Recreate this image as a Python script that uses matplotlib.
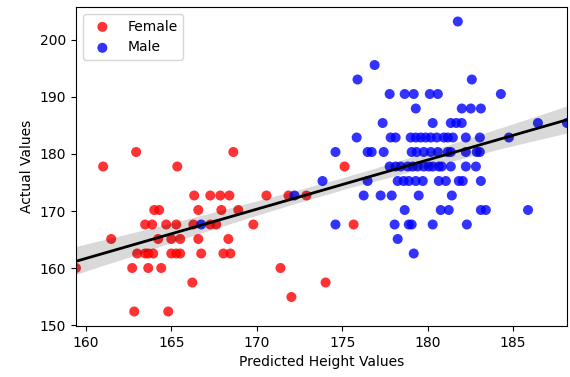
import numpy as np
import matplotlib
matplotlib.use("Agg")
import matplotlib.pyplot as plt
import seaborn as sns

# predicted vs actual heights (cm)
female_pred = [162.93, 168.62,
               161.00, 165.34, 175.13,
               166.33, 167.27, 167.86, 168.39, 170.56, 171.85, 172.90,
               163.99, 164.28, 166.57, 167.92, 168.91,
               163.46, 163.87, 164.69, 165.28, 166.28, 167.27, 167.62, 169.79, 175.66,
               161.47, 164.22, 164.99, 165.51, 166.57, 168.33,
               162.99, 163.46, 163.64, 163.93, 164.99, 165.28, 165.51, 166.74, 168.04, 168.45,
               159.41, 162.70, 163.64, 164.40, 171.38,
               166.22, 174.02,
               172.02,
               162.82, 164.81]
female_actual = [180.34] * 2 + [177.8] * 3 + [172.72] * 7 + [170.18] * 5 + [167.64] * 9 \
    + [165.1] * 6 + [162.56] * 10 + [160.02] * 5 + [157.48] * 2 + [154.94] * 1 + [152.4] * 2

male_pred = [181.76,
             176.89,
             175.89, 182.58,
             177.77, 178.65, 179.18, 180.12, 180.59, 184.28,
             179.30, 181.99, 182.52, 183.11,
             177.36, 180.29, 181.35, 181.67, 181.99, 186.45, 188.15,
             175.84, 177.83, 178.12, 179.00, 179.30, 179.59, 179.88, 180.18, 180.53, 180.94,
             181.17, 181.47, 182.23, 183.05, 184.75,
             174.60, 176.48, 176.72, 177.42, 179.06, 179.35, 179.77, 180.18, 180.59, 181.17,
             181.35, 182.23, 182.87, 183.05,
             177.77, 178.12, 178.42, 178.83, 179.12, 179.41, 179.77, 180.06, 180.29, 180.65,
             180.82, 181.35, 182.23, 182.82,
             173.84, 176.48, 178.24, 178.59, 178.89, 179.30, 179.71, 180.65, 181.06, 181.82,
             182.05, 183.11,
             172.20, 176.25, 177.24, 177.89, 179.47, 181.41,
             178.65, 180.76, 181.23, 183.11, 183.40, 185.87,
             166.74, 174.60, 178.06, 178.89, 179.06, 180.29, 182.29,
             178.24,
             179.18]
male_actual = [203.2] * 1 + [195.58] * 1 + [193.04] * 2 + [190.5] * 6 + [187.96] * 4 \
    + [185.42] * 7 + [182.88] * 15 + [180.34] * 14 + [177.8] * 14 + [175.26] * 12 \
    + [172.72] * 6 + [170.18] * 6 + [167.64] * 7 + [165.1] * 1 + [162.56] * 1

all_pred = np.array(female_pred + male_pred)
all_actual = np.array(female_actual + male_actual)

fig = plt.figure(figsize=(5.7, 3.77), dpi=100)
ax = fig.add_axes([0.1333, 0.1353, 0.8614, 0.8461])

ax.scatter(female_pred, female_actual, color="red", alpha=0.8, s=52,
           edgecolors="none", label="Female")
ax.scatter(male_pred, male_actual, color="blue", alpha=0.8, s=52,
           edgecolors="none", label="Male")
sns.regplot(x=all_pred, y=all_actual, scatter=False, color="black", ax=ax,
            line_kws={"linewidth": 2}, seed=0)

ax.set_xlim(all_pred.min(), all_pred.max())
ax.set_xlabel("Predicted Height Values")
ax.set_ylabel("Actual Values")
ax.legend(loc="upper left")

fig.savefig("out.png", dpi=100)
